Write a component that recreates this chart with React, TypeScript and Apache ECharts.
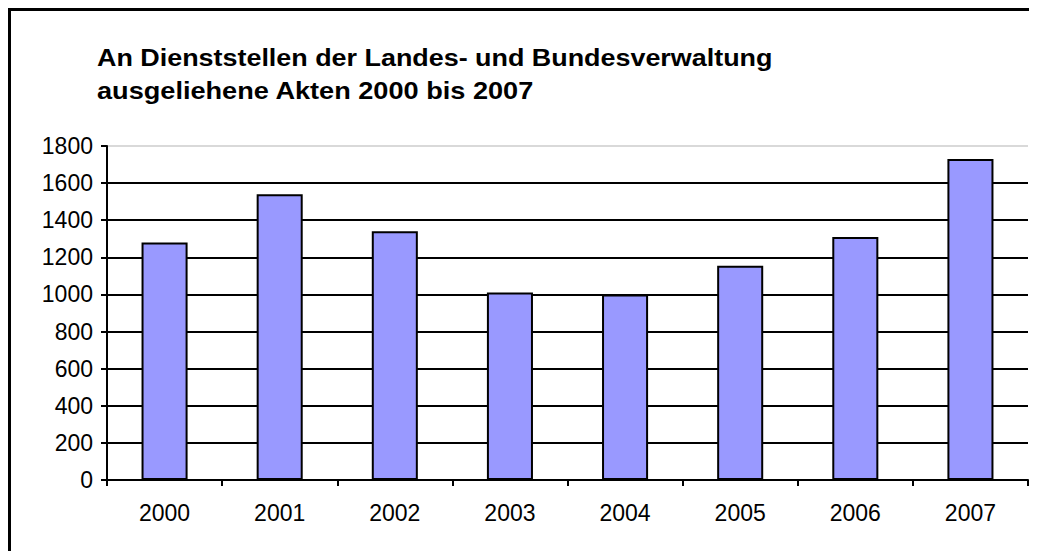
import React, { useEffect, useRef } from "react";
import * as echarts from "echarts";

const categories = ["2000", "2001", "2002", "2003", "2004", "2005", "2006", "2007"];
const values = [1280, 1540, 1340, 1010, 1000, 1155, 1310, 1730];
const titleLines = [
  "An Dienststellen der Landes- und Bundesverwaltung",
  "ausgeliehene Akten 2000 bis 2007",
];

const FONT = "Liberation Sans, Arial, sans-serif";

export default function App() {
  const ref = useRef<HTMLDivElement>(null);
  useEffect(() => {
    if (!ref.current) return;
    const chart = echarts.init(ref.current, null, { renderer: "svg" });
    const gridColors = ["#000", "#000", "#000", "#000", "#000", "#000", "#000", "#000", "#000", "#d9d9d9"];
    chart.setOption({
      animation: false,
      backgroundColor: "#fff",
      textStyle: { fontFamily: FONT },
      graphic: [
        {
          type: "rect",
          shape: { x: 1.5, y: 1.5, width: 3000, height: 3000 },
          style: { fill: "none", stroke: "#000", lineWidth: 3 },
          silent: true,
        },
        {
          type: "text",
          x: 89,
          y: 50,
          scaleX: 1.17,
          style: {
            text: titleLines[0],
            font: `bold 23px ${FONT}`,
            fill: "#000",
            verticalAlign: "middle",
          },
        },
        {
          type: "text",
          x: 89,
          y: 83,
          scaleX: 1.18,
          style: {
            text: titleLines[1],
            font: `bold 23px ${FONT}`,
            fill: "#000",
            verticalAlign: "middle",
          },
        },
      ],
      grid: { left: 99, right: 9, top: 138, bottom: 71 },
      xAxis: {
        type: "category",
        data: categories,
        axisLine: { lineStyle: { color: "#000", width: 2 } },
        axisTick: { show: true, length: 6, lineStyle: { color: "#000", width: 2 } },
        axisLabel: { color: "#000", fontSize: 23, margin: 21, fontFamily: FONT },
      },
      yAxis: {
        type: "value",
        min: 0,
        max: 1800,
        interval: 200,
        axisLine: { show: true, lineStyle: { color: "#000", width: 2 } },
        axisTick: { show: true, length: 6, lineStyle: { color: "#000", width: 2 } },
        axisLabel: { color: "#000", fontSize: 23, margin: 14, fontFamily: FONT, formatter: (v: number) => String(v) },
        splitLine: { show: true, lineStyle: { color: gridColors, width: 2 } },
      },
      series: [
        {
          type: "bar",
          data: values,
          barWidth: "40%",
          itemStyle: { color: "#9999FF", borderColor: "#000", borderWidth: 2 },
        },
      ],
    });
    return () => chart.dispose();
  }, []);
  return <div ref={ref} style={{ width: 1029, height: 543 }} />;
}
